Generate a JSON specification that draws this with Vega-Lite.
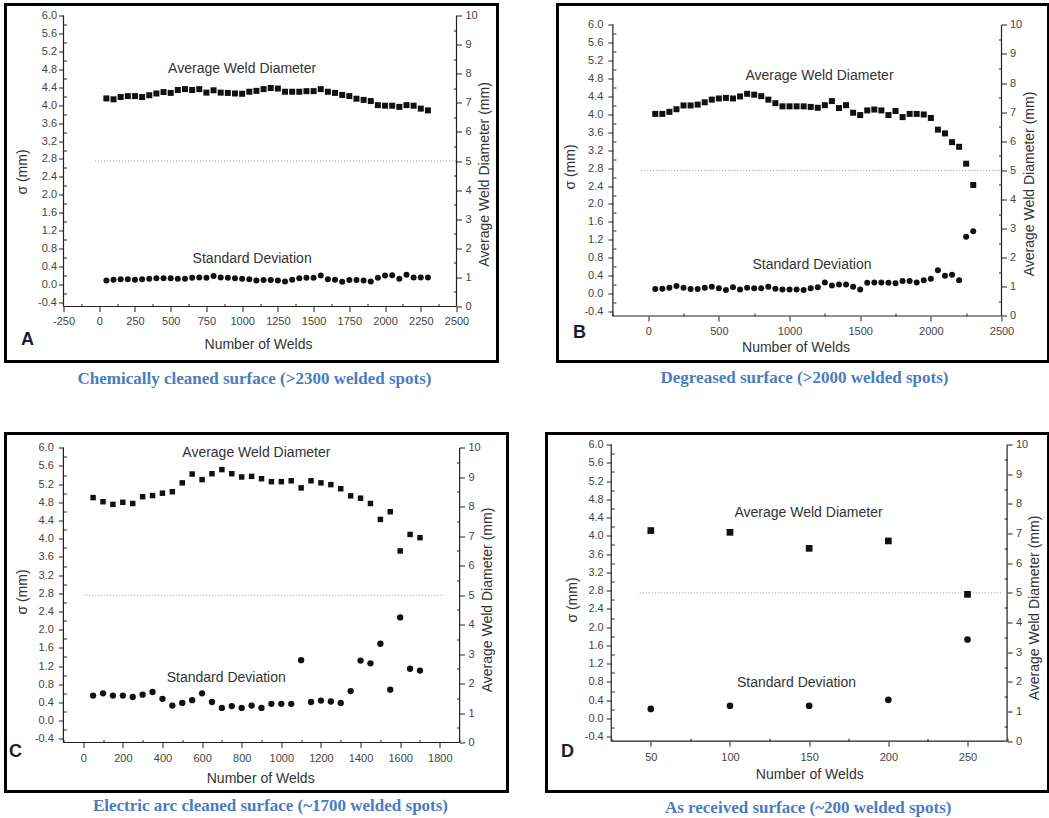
{
  "$schema": "https://vega.github.io/schema/vega-lite/v6.json",
  "padding": {"left": 3.5, "top": 2.5, "right": 0, "bottom": 0},
  "background": "white",
  "datasets": {
    "A": [
      {"welds":50,"sigma":0.09,"diameter":7.15},{"welds":100,"sigma":0.11,"diameter":7.12},{"welds":150,"sigma":0.12,"diameter":7.20},{"welds":200,"sigma":0.12,"diameter":7.23},{"welds":250,"sigma":0.11,"diameter":7.23},{"welds":300,"sigma":0.12,"diameter":7.20},{"welds":350,"sigma":0.13,"diameter":7.26},{"welds":400,"sigma":0.14,"diameter":7.32},{"welds":450,"sigma":0.14,"diameter":7.37},{"welds":500,"sigma":0.14,"diameter":7.34},{"welds":550,"sigma":0.13,"diameter":7.44},{"welds":600,"sigma":0.13,"diameter":7.47},{"welds":650,"sigma":0.15,"diameter":7.44},{"welds":700,"sigma":0.16,"diameter":7.47},{"welds":750,"sigma":0.15,"diameter":7.35},{"welds":800,"sigma":0.19,"diameter":7.43},{"welds":850,"sigma":0.16,"diameter":7.35},{"welds":900,"sigma":0.15,"diameter":7.34},{"welds":950,"sigma":0.14,"diameter":7.32},{"welds":1000,"sigma":0.13,"diameter":7.31},{"welds":1050,"sigma":0.12,"diameter":7.38},{"welds":1100,"sigma":0.09,"diameter":7.41},{"welds":1150,"sigma":0.10,"diameter":7.47},{"welds":1200,"sigma":0.10,"diameter":7.51},{"welds":1250,"sigma":0.09,"diameter":7.49},{"welds":1300,"sigma":0.07,"diameter":7.38},{"welds":1350,"sigma":0.11,"diameter":7.38},{"welds":1400,"sigma":0.14,"diameter":7.38},{"welds":1450,"sigma":0.15,"diameter":7.40},{"welds":1500,"sigma":0.15,"diameter":7.40},{"welds":1550,"sigma":0.20,"diameter":7.47},{"welds":1600,"sigma":0.12,"diameter":7.38},{"welds":1650,"sigma":0.11,"diameter":7.34},{"welds":1700,"sigma":0.06,"diameter":7.27},{"welds":1750,"sigma":0.10,"diameter":7.23},{"welds":1800,"sigma":0.10,"diameter":7.14},{"welds":1850,"sigma":0.09,"diameter":7.10},{"welds":1900,"sigma":0.07,"diameter":7.06},{"welds":1950,"sigma":0.15,"diameter":6.92},{"welds":2000,"sigma":0.20,"diameter":6.90},{"welds":2050,"sigma":0.21,"diameter":6.90},{"welds":2100,"sigma":0.13,"diameter":6.86},{"welds":2150,"sigma":0.22,"diameter":6.92},{"welds":2200,"sigma":0.16,"diameter":6.90},{"welds":2250,"sigma":0.16,"diameter":6.80},{"welds":2300,"sigma":0.16,"diameter":6.74}
    ],
    "B": [
      {"welds":50,"sigma":0.10,"diameter":6.94},{"welds":100,"sigma":0.11,"diameter":6.94},{"welds":150,"sigma":0.13,"diameter":7.01},{"welds":200,"sigma":0.17,"diameter":7.10},{"welds":250,"sigma":0.13,"diameter":7.23},{"welds":300,"sigma":0.10,"diameter":7.23},{"welds":350,"sigma":0.10,"diameter":7.26},{"welds":400,"sigma":0.13,"diameter":7.34},{"welds":450,"sigma":0.15,"diameter":7.43},{"welds":500,"sigma":0.12,"diameter":7.47},{"welds":550,"sigma":0.08,"diameter":7.49},{"welds":600,"sigma":0.14,"diameter":7.47},{"welds":650,"sigma":0.09,"diameter":7.54},{"welds":700,"sigma":0.13,"diameter":7.63},{"welds":750,"sigma":0.12,"diameter":7.60},{"welds":800,"sigma":0.12,"diameter":7.55},{"welds":850,"sigma":0.15,"diameter":7.43},{"welds":900,"sigma":0.11,"diameter":7.31},{"welds":950,"sigma":0.09,"diameter":7.20},{"welds":1000,"sigma":0.09,"diameter":7.20},{"welds":1050,"sigma":0.09,"diameter":7.20},{"welds":1100,"sigma":0.08,"diameter":7.20},{"welds":1150,"sigma":0.12,"diameter":7.18},{"welds":1200,"sigma":0.14,"diameter":7.15},{"welds":1250,"sigma":0.25,"diameter":7.24},{"welds":1300,"sigma":0.18,"diameter":7.38},{"welds":1350,"sigma":0.20,"diameter":7.14},{"welds":1400,"sigma":0.20,"diameter":7.24},{"welds":1450,"sigma":0.15,"diameter":6.98},{"welds":1500,"sigma":0.09,"diameter":6.90},{"welds":1550,"sigma":0.24,"diameter":7.06},{"welds":1600,"sigma":0.25,"diameter":7.09},{"welds":1650,"sigma":0.25,"diameter":7.06},{"welds":1700,"sigma":0.24,"diameter":6.90},{"welds":1750,"sigma":0.23,"diameter":7.04},{"welds":1800,"sigma":0.28,"diameter":6.83},{"welds":1850,"sigma":0.28,"diameter":6.94},{"welds":1900,"sigma":0.25,"diameter":6.94},{"welds":1950,"sigma":0.30,"diameter":6.92},{"welds":2000,"sigma":0.33,"diameter":6.80},{"welds":2050,"sigma":0.52,"diameter":6.40},{"welds":2100,"sigma":0.40,"diameter":6.27},{"welds":2150,"sigma":0.42,"diameter":5.97},{"welds":2200,"sigma":0.30,"diameter":5.81},{"welds":2250,"sigma":1.27,"diameter":5.23},{"welds":2300,"sigma":1.39,"diameter":4.50}
    ],
    "C": [
      {"welds":50,"sigma":0.55,"diameter":8.31},{"welds":100,"sigma":0.60,"diameter":8.17},{"welds":150,"sigma":0.55,"diameter":8.08},{"welds":200,"sigma":0.55,"diameter":8.15},{"welds":250,"sigma":0.52,"diameter":8.11},{"welds":300,"sigma":0.57,"diameter":8.34},{"welds":350,"sigma":0.63,"diameter":8.38},{"welds":400,"sigma":0.48,"diameter":8.46},{"welds":450,"sigma":0.33,"diameter":8.51},{"welds":500,"sigma":0.39,"diameter":8.81},{"welds":550,"sigma":0.45,"diameter":9.11},{"welds":600,"sigma":0.60,"diameter":8.92},{"welds":650,"sigma":0.41,"diameter":9.12},{"welds":700,"sigma":0.28,"diameter":9.26},{"welds":750,"sigma":0.32,"diameter":9.12},{"welds":800,"sigma":0.28,"diameter":9.01},{"welds":850,"sigma":0.33,"diameter":9.03},{"welds":900,"sigma":0.28,"diameter":8.95},{"welds":950,"sigma":0.37,"diameter":8.85},{"welds":1000,"sigma":0.37,"diameter":8.85},{"welds":1050,"sigma":0.37,"diameter":8.88},{"welds":1100,"sigma":1.33,"diameter":8.64},{"welds":1150,"sigma":0.41,"diameter":8.88},{"welds":1200,"sigma":0.44,"diameter":8.81},{"welds":1250,"sigma":0.42,"diameter":8.75},{"welds":1300,"sigma":0.39,"diameter":8.61},{"welds":1350,"sigma":0.65,"diameter":8.37},{"welds":1400,"sigma":1.32,"diameter":8.29},{"welds":1450,"sigma":1.26,"diameter":8.11},{"welds":1500,"sigma":1.69,"diameter":7.57},{"welds":1550,"sigma":0.68,"diameter":7.83},{"welds":1600,"sigma":2.27,"diameter":6.50},{"welds":1650,"sigma":1.14,"diameter":7.06},{"welds":1700,"sigma":1.10,"diameter":6.95}
    ],
    "D": [
      {"welds":50,"sigma":0.21,"diameter":7.10},{"welds":100,"sigma":0.28,"diameter":7.04},{"welds":150,"sigma":0.28,"diameter":6.50},{"welds":200,"sigma":0.41,"diameter":6.75},{"welds":250,"sigma":1.73,"diameter":4.95}
    ]
  },
  "spacing": 43,
  "vconcat": [
    {
      "spacing": 56,
      "hconcat": [
        {
          "width": 492, "height": 357,
          "title": {"text": "Chemically cleaned surface (>2300 welded spots)", "orient": "bottom", "offset": 9.5, "dx": 3},
          "resolve": {"scale": {"y": "independent"}, "axis": {"x": "independent"}},
          "layer": [
            {"data": {"values": [{}]}, "mark": {"type": "rule", "color": "#999999", "strokeDash": [1, 2], "strokeWidth": 1},
             "encoding": {"x": {"datum": -30, "type": "quantitative", "scale": {"domain": [-655.9, 2786.9], "nice": false, "zero": false}, "axis": null}, "x2": {"datum": 2500},
               "y": {"datum": 5, "type": "quantitative", "scale": {"domain": [-1.890, 10.378], "nice": false, "zero": false}, "axis": {"orient": "right", "offset": -41, "values": [0.5,1.5,2.5,3.5,4.5,5.5,6.5,7.5,8.5,9.5], "labels": false, "tickSize": -3, "title": null}}}},
            {"data": {"values": [{}]}, "mark": {"type": "rule", "color": "#222222", "strokeWidth": 1.2},
             "encoding": {"x": {"datum": -250, "type": "quantitative", "scale": {"domain": [-655.9, 2786.9], "nice": false, "zero": false}, "axis": null},
               "y": {"datum": 0, "type": "quantitative", "scale": {"domain": [-1.890, 10.378], "nice": false, "zero": false}, "axis": null}, "y2": {"datum": 10}}},
            {"data": {"values": [{}]}, "mark": {"type": "rule", "color": "#222222", "strokeWidth": 1.2},
             "encoding": {"x": {"datum": 2500, "type": "quantitative", "scale": {"domain": [-655.9, 2786.9], "nice": false, "zero": false}, "axis": null},
               "y": {"datum": 0, "type": "quantitative", "scale": {"domain": [-1.890, 10.378], "nice": false, "zero": false}, "axis": null}, "y2": {"datum": 10}}},
            {"data": {"values": [{}]}, "mark": {"type": "rule", "color": "#222222", "strokeWidth": 1.2},
             "encoding": {"x": {"datum": -250, "type": "quantitative", "scale": {"domain": [-655.9, 2786.9], "nice": false, "zero": false}, "axis": {"orient": "bottom", "offset": -55, "values": [-125,125,375,625,875,1125,1375,1625,1875,2125,2375], "labels": false, "tickSize": -3, "title": null}}, "x2": {"datum": 2500},
               "y": {"datum": 0, "type": "quantitative", "scale": {"domain": [-1.890, 10.378], "nice": false, "zero": false}, "axis": null}}},
            {"data": {"name": "A"}, "mark": {"type": "circle", "size": 36, "color": "#111111", "opacity": 1},
             "encoding": {
               "x": {"field": "welds", "type": "quantitative", "scale": {"domain": [-655.9, 2786.9], "nice": false, "zero": false}, "axis": {"title": "Number of Welds", "orient": "bottom", "offset": -55, "values": [-250,0,250,500,750,1000,1250,1500,1750,2000,2250,2500], "labelExpr": "'' + datum.value", "tickSize": 5, "labelPadding": 4, "titleX": 252.5, "titleY": 31}},
               "y": {"field": "sigma", "type": "quantitative", "scale": {"domain": [-1.7158, 6.2453], "nice": false, "zero": false}, "axis": {"title": "σ (mm)", "orient": "left", "offset": -58, "values": [-0.4,0,0.4,0.8,1.2,1.6,2,2.4,2.8,3.2,3.6,4,4.4,4.8,5.2,5.6,6], "labelExpr": "(datum.value < 0 ? '-' : '') + format(abs(datum.value), '.1f')", "tickSize": 5, "labelPadding": 2, "titlePadding": 8, "titleY": 167}}}},
            {"data": {"name": "A"}, "mark": {"type": "square", "size": 36, "color": "#111111", "opacity": 1},
             "encoding": {
               "x": {"field": "welds", "type": "quantitative", "scale": {"domain": [-655.9, 2786.9], "nice": false, "zero": false}, "axis": null},
               "y": {"field": "diameter", "type": "quantitative", "scale": {"domain": [-1.890, 10.378], "nice": false, "zero": false}, "axis": {"title": "Average Weld Diameter (mm)", "orient": "right", "offset": -41, "values": [0,1,2,3,4,5,6,7,8,9,10], "tickSize": 5, "labelPadding": 3.5, "titlePadding": 0, "titleAngle": 270, "titleBaseline": "top", "titleY": 169.5}}}},
            {"data": {"values": [{}]}, "mark": {"type": "text", "text": "Average Weld Diameter", "fontSize": 14, "font": "Liberation Sans", "color": "#333333"},
             "encoding": {"x": {"datum": 1000, "type": "quantitative", "scale": {"domain": [-655.9, 2786.9], "nice": false, "zero": false}, "axis": null},
               "y": {"datum": 4.8, "type": "quantitative", "scale": {"domain": [-1.7158, 6.2453], "nice": false, "zero": false}, "axis": {"orient": "left", "offset": -58, "values": [-0.2,0.2,0.6,1,1.4,1.8,2.2,2.6,3,3.4,3.8,4.2,4.6,5,5.4,5.8], "labels": false, "tickSize": -3, "title": null}}}},
            {"data": {"values": [{}]}, "mark": {"type": "text", "text": "Standard Deviation", "fontSize": 14, "font": "Liberation Sans", "color": "#333333"},
             "encoding": {"x": {"datum": 1070, "type": "quantitative", "scale": {"domain": [-655.9, 2786.9], "nice": false, "zero": false}, "axis": null},
               "y": {"datum": 0.56, "type": "quantitative", "scale": {"domain": [-1.7158, 6.2453], "nice": false, "zero": false}, "axis": null}}},
            {"data": {"values": [{}]}, "mark": {"type": "text", "text": "A", "fontSize": 18, "fontWeight": "bold", "font": "Liberation Sans", "color": "#1a1a33"},
             "encoding": {"x": {"datum": -502, "type": "quantitative", "scale": {"domain": [-655.9, 2786.9], "nice": false, "zero": false}, "axis": null},
               "y": {"datum": -1.23, "type": "quantitative", "scale": {"domain": [-1.7158, 6.2453], "nice": false, "zero": false}, "axis": null}}}
          ]
        },
        {
          "width": 491, "height": 357,
          "title": {"text": "Degreased surface (>2000 welded spots)", "orient": "bottom", "offset": 8.5, "dx": 1.5},
          "resolve": {"scale": {"y": "independent"}, "axis": {"x": "independent"}},
          "layer": [
            {"data": {"values": [{}]}, "mark": {"type": "rule", "color": "#999999", "strokeDash": [1, 2], "strokeWidth": 1},
             "encoding": {"x": {"datum": -50, "type": "quantitative", "scale": {"domain": [-641.8, 2832.6], "nice": false, "zero": false}, "axis": null}, "x2": {"datum": 2500},
               "y": {"datum": 5, "type": "quantitative", "scale": {"domain": [-1.5625, 10.697], "nice": false, "zero": false}, "axis": {"orient": "right", "offset": -47, "values": [0.5,1.5,2.5,3.5,4.5,5.5,6.5,7.5,8.5,9.5], "labels": false, "tickSize": -3, "title": null}}}},
            {"data": {"values": [{}]}, "mark": {"type": "rule", "color": "#222222", "strokeWidth": 1.2},
             "encoding": {"x": {"datum": -250, "type": "quantitative", "scale": {"domain": [-641.8, 2832.6], "nice": false, "zero": false}, "axis": null},
               "y": {"datum": 0, "type": "quantitative", "scale": {"domain": [-1.5625, 10.697], "nice": false, "zero": false}, "axis": null}, "y2": {"datum": 10}}},
            {"data": {"values": [{}]}, "mark": {"type": "rule", "color": "#222222", "strokeWidth": 1.2},
             "encoding": {"x": {"datum": 2500, "type": "quantitative", "scale": {"domain": [-641.8, 2832.6], "nice": false, "zero": false}, "axis": null},
               "y": {"datum": 0, "type": "quantitative", "scale": {"domain": [-1.5625, 10.697], "nice": false, "zero": false}, "axis": null}, "y2": {"datum": 10}}},
            {"data": {"values": [{}]}, "mark": {"type": "rule", "color": "#222222", "strokeWidth": 1.2},
             "encoding": {"x": {"datum": -250, "type": "quantitative", "scale": {"domain": [-641.8, 2832.6], "nice": false, "zero": false}, "axis": {"orient": "bottom", "offset": -45.5, "values": [-250,250,750,1250,1750,2250], "labels": false, "tickSize": -3, "title": null}}, "x2": {"datum": 2500},
               "y": {"datum": 0, "type": "quantitative", "scale": {"domain": [-1.5625, 10.697], "nice": false, "zero": false}, "axis": null}}},
            {"data": {"name": "B"}, "mark": {"type": "circle", "size": 36, "color": "#111111", "opacity": 1},
             "encoding": {
               "x": {"field": "welds", "type": "quantitative", "scale": {"domain": [-641.8, 2832.6], "nice": false, "zero": false}, "axis": {"title": "Number of Welds", "orient": "bottom", "offset": -45.5, "values": [0,500,1000,1500,2000,2500], "labelExpr": "'' + datum.value", "tickSize": 5, "labelPadding": 4, "titleX": 238, "titleY": 24}},
               "y": {"field": "sigma", "type": "quantitative", "scale": {"domain": [-1.5161, 6.4531], "nice": false, "zero": false}, "axis": {"title": "σ (mm)", "orient": "left", "offset": -55.4, "values": [-0.4,0,0.4,0.8,1.2,1.6,2,2.4,2.8,3.2,3.6,4,4.4,4.8,5.2,5.6,6], "labelExpr": "(datum.value < 0 ? '-' : '') + format(abs(datum.value), '.1f')", "tickSize": 5, "labelPadding": 5, "titlePadding": 6, "titleY": 162}}}},
            {"data": {"name": "B"}, "mark": {"type": "square", "size": 36, "color": "#111111", "opacity": 1},
             "encoding": {
               "x": {"field": "welds", "type": "quantitative", "scale": {"domain": [-641.8, 2832.6], "nice": false, "zero": false}, "axis": null},
               "y": {"field": "diameter", "type": "quantitative", "scale": {"domain": [-1.5625, 10.697], "nice": false, "zero": false}, "axis": {"title": "Average Weld Diameter (mm)", "orient": "right", "offset": -47, "values": [0,1,2,3,4,5,6,7,8,9,10], "tickSize": 5, "labelPadding": 3, "titlePadding": 1, "titleAngle": 270, "titleBaseline": "top", "titleY": 179}}}},
            {"data": {"values": [{}]}, "mark": {"type": "text", "text": "Average Weld Diameter", "fontSize": 14, "font": "Liberation Sans", "color": "#333333"},
             "encoding": {"x": {"datum": 1212, "type": "quantitative", "scale": {"domain": [-641.8, 2832.6], "nice": false, "zero": false}, "axis": null},
               "y": {"datum": 4.85, "type": "quantitative", "scale": {"domain": [-1.5161, 6.4531], "nice": false, "zero": false}, "axis": {"orient": "left", "offset": -55.4, "values": [-0.2,0.2,0.6,1,1.4,1.8,2.2,2.6,3,3.4,3.8,4.2,4.6,5,5.4,5.8], "labels": false, "tickSize": -3, "title": null}}}},
            {"data": {"values": [{}]}, "mark": {"type": "text", "text": "Standard Deviation", "fontSize": 14, "font": "Liberation Sans", "color": "#333333"},
             "encoding": {"x": {"datum": 1159, "type": "quantitative", "scale": {"domain": [-641.8, 2832.6], "nice": false, "zero": false}, "axis": null},
               "y": {"datum": 0.64, "type": "quantitative", "scale": {"domain": [-1.5161, 6.4531], "nice": false, "zero": false}, "axis": null}}},
            {"data": {"values": [{}]}, "mark": {"type": "text", "text": "B", "fontSize": 18, "fontWeight": "bold", "font": "Liberation Sans", "color": "#1a1a33"},
             "encoding": {"x": {"datum": -486, "type": "quantitative", "scale": {"domain": [-641.8, 2832.6], "nice": false, "zero": false}, "axis": null},
               "y": {"datum": -0.87, "type": "quantitative", "scale": {"domain": [-1.5161, 6.4531], "nice": false, "zero": false}, "axis": null}}}
          ]
        }
      ]
    },
    {
      "spacing": 35,
      "hconcat": [
        {
          "width": 502, "height": 358,
          "title": {"text": "Electric arc cleaned surface (~1700 welded spots)", "orient": "bottom", "offset": 6.5, "dx": 14},
          "resolve": {"scale": {"y": "independent"}, "axis": {"x": "independent"}},
          "layer": [
            {"data": {"values": [{}]}, "mark": {"type": "rule", "color": "#999999", "strokeDash": [1, 2], "strokeWidth": 1},
             "encoding": {"x": {"datum": 0, "type": "quantitative", "scale": {"domain": [-392.2, 2141.7], "nice": false, "zero": false}, "axis": null}, "x2": {"datum": 1820},
               "y": {"datum": 5, "type": "quantitative", "scale": {"domain": [-1.663, 10.485], "nice": false, "zero": false}, "axis": {"orient": "right", "offset": -47.9, "values": [0.5,1.5,2.5,3.5,4.5,5.5,6.5,7.5,8.5,9.5], "labels": false, "tickSize": -3, "title": null}}}},
            {"data": {"values": [{}]}, "mark": {"type": "rule", "color": "#222222", "strokeWidth": 1.2},
             "encoding": {"x": {"datum": -100, "type": "quantitative", "scale": {"domain": [-392.2, 2141.7], "nice": false, "zero": false}, "axis": null},
               "y": {"datum": 0, "type": "quantitative", "scale": {"domain": [-1.663, 10.485], "nice": false, "zero": false}, "axis": null}, "y2": {"datum": 10}}},
            {"data": {"values": [{}]}, "mark": {"type": "rule", "color": "#222222", "strokeWidth": 1.2},
             "encoding": {"x": {"datum": 1900, "type": "quantitative", "scale": {"domain": [-392.2, 2141.7], "nice": false, "zero": false}, "axis": null},
               "y": {"datum": 0, "type": "quantitative", "scale": {"domain": [-1.663, 10.485], "nice": false, "zero": false}, "axis": null}, "y2": {"datum": 10}}},
            {"data": {"values": [{}]}, "mark": {"type": "rule", "color": "#222222", "strokeWidth": 1.2},
             "encoding": {"x": {"datum": -100, "type": "quantitative", "scale": {"domain": [-392.2, 2141.7], "nice": false, "zero": false}, "axis": {"orient": "bottom", "offset": -49, "values": [-100,100,300,500,700,900,1100,1300,1500,1700,1900], "labels": false, "tickSize": -3, "title": null}}, "x2": {"datum": 1900},
               "y": {"datum": 0, "type": "quantitative", "scale": {"domain": [-1.663, 10.485], "nice": false, "zero": false}, "axis": null}}},
            {"data": {"name": "C"}, "mark": {"type": "circle", "size": 40, "color": "#111111", "opacity": 1},
             "encoding": {
               "x": {"field": "welds", "type": "quantitative", "scale": {"domain": [-392.2, 2141.7], "nice": false, "zero": false}, "axis": {"title": "Number of Welds", "orient": "bottom", "offset": -49, "values": [0,200,400,600,800,1000,1200,1400,1600,1800], "labelExpr": "'' + datum.value", "tickSize": 5, "labelPadding": 5, "titleX": 254.7, "titleY": 29}},
               "y": {"field": "sigma", "type": "quantitative", "scale": {"domain": [-1.559, 6.3145], "nice": false, "zero": false}, "axis": {"title": "σ (mm)", "orient": "left", "offset": -57.9, "values": [-0.4,0,0.4,0.8,1.2,1.6,2,2.4,2.8,3.2,3.6,4,4.4,4.8,5.2,5.6,6], "labelExpr": "(datum.value < 0 ? '-' : '') + format(abs(datum.value), '.1f')", "tickSize": 5, "labelPadding": 5, "titlePadding": 5, "titleY": 158}}}},
            {"data": {"name": "C"}, "mark": {"type": "square", "size": 30, "color": "#111111", "opacity": 1},
             "encoding": {
               "x": {"field": "welds", "type": "quantitative", "scale": {"domain": [-392.2, 2141.7], "nice": false, "zero": false}, "axis": null},
               "y": {"field": "diameter", "type": "quantitative", "scale": {"domain": [-1.663, 10.485], "nice": false, "zero": false}, "axis": {"title": "Average Weld Diameter (mm)", "orient": "right", "offset": -47.9, "values": [0,1,2,3,4,5,6,7,8,9,10], "tickSize": 5, "labelPadding": 3.4, "titlePadding": 0, "titleAngle": 270, "titleBaseline": "top", "titleY": 166}}}},
            {"data": {"values": [{}]}, "mark": {"type": "text", "text": "Average Weld Diameter", "fontSize": 14, "font": "Liberation Sans", "color": "#333333"},
             "encoding": {"x": {"datum": 874, "type": "quantitative", "scale": {"domain": [-392.2, 2141.7], "nice": false, "zero": false}, "axis": null},
               "y": {"datum": 5.89, "type": "quantitative", "scale": {"domain": [-1.559, 6.3145], "nice": false, "zero": false}, "axis": {"orient": "left", "offset": -57.9, "values": [-0.2,0.2,0.6,1,1.4,1.8,2.2,2.6,3,3.4,3.8,4.2,4.6,5,5.4,5.8], "labels": false, "tickSize": -3, "title": null}}}},
            {"data": {"values": [{}]}, "mark": {"type": "text", "text": "Standard Deviation", "fontSize": 14, "font": "Liberation Sans", "color": "#333333"},
             "encoding": {"x": {"datum": 722, "type": "quantitative", "scale": {"domain": [-392.2, 2141.7], "nice": false, "zero": false}, "axis": null},
               "y": {"datum": 0.93, "type": "quantitative", "scale": {"domain": [-1.559, 6.3145], "nice": false, "zero": false}, "axis": null}}},
            {"data": {"values": [{}]}, "mark": {"type": "text", "text": "C", "fontSize": 18, "fontWeight": "bold", "font": "Liberation Sans", "color": "#1a1a33"},
             "encoding": {"x": {"datum": -342, "type": "quantitative", "scale": {"domain": [-392.2, 2141.7], "nice": false, "zero": false}, "axis": null},
               "y": {"datum": -0.70, "type": "quantitative", "scale": {"domain": [-1.559, 6.3145], "nice": false, "zero": false}, "axis": null}}}
          ]
        },
        {
          "width": 502, "height": 358,
          "title": {"text": "As received surface (~200 welded spots)", "orient": "bottom", "offset": 8.7, "dx": 10.7},
          "resolve": {"scale": {"y": "independent"}, "axis": {"x": "independent"}},
          "layer": [
            {"data": {"values": [{}]}, "mark": {"type": "rule", "color": "#999999", "strokeDash": [1, 2], "strokeWidth": 1},
             "encoding": {"x": {"datum": 43, "type": "quantitative", "scale": {"domain": [-15.87, 301.15], "nice": false, "zero": false}, "axis": null}, "x2": {"datum": 271},
               "y": {"datum": 5, "type": "quantitative", "scale": {"domain": [-1.695, 10.371], "nice": false, "zero": false}, "axis": {"orient": "right", "offset": -41.4, "values": [0.5,1.5,2.5,3.5,4.5,5.5,6.5,7.5,8.5,9.5], "labels": false, "tickSize": -3, "title": null}}}},
            {"data": {"values": [{}]}, "mark": {"type": "rule", "color": "#222222", "strokeWidth": 1.2},
             "encoding": {"x": {"datum": 25, "type": "quantitative", "scale": {"domain": [-15.87, 301.15], "nice": false, "zero": false}, "axis": null},
               "y": {"datum": 0, "type": "quantitative", "scale": {"domain": [-1.695, 10.371], "nice": false, "zero": false}, "axis": null}, "y2": {"datum": 10}}},
            {"data": {"values": [{}]}, "mark": {"type": "rule", "color": "#222222", "strokeWidth": 1.2},
             "encoding": {"x": {"datum": 275, "type": "quantitative", "scale": {"domain": [-15.87, 301.15], "nice": false, "zero": false}, "axis": null},
               "y": {"datum": 0, "type": "quantitative", "scale": {"domain": [-1.695, 10.371], "nice": false, "zero": false}, "axis": null}, "y2": {"datum": 10}}},
            {"data": {"values": [{}]}, "mark": {"type": "rule", "color": "#222222", "strokeWidth": 1.2},
             "encoding": {"x": {"datum": 25, "type": "quantitative", "scale": {"domain": [-15.87, 301.15], "nice": false, "zero": false}, "axis": {"orient": "bottom", "offset": -50.3, "values": [25,75,125,175,225,275], "labels": false, "tickSize": -3, "title": null}}, "x2": {"datum": 275},
               "y": {"datum": 0, "type": "quantitative", "scale": {"domain": [-1.695, 10.371], "nice": false, "zero": false}, "axis": null}}},
            {"data": {"name": "D"}, "mark": {"type": "circle", "size": 45, "color": "#111111", "opacity": 1},
             "encoding": {
               "x": {"field": "welds", "type": "quantitative", "scale": {"domain": [-15.87, 301.15], "nice": false, "zero": false}, "axis": {"title": "Number of Welds", "orient": "bottom", "offset": -50.3, "values": [50,100,150,200,250], "labelExpr": "'' + datum.value", "tickSize": 5, "labelPadding": 5, "titleX": 262.8, "titleY": 26}},
               "y": {"field": "sigma", "type": "quantitative", "scale": {"domain": [-1.5977, 6.2409], "nice": false, "zero": false}, "axis": {"title": "σ (mm)", "orient": "left", "offset": -64.7, "values": [-0.4,0,0.4,0.8,1.2,1.6,2,2.4,2.8,3.2,3.6,4,4.4,4.8,5.2,5.6,6], "labelExpr": "(datum.value < 0 ? '-' : '') + format(abs(datum.value), '.1f')", "tickSize": 5, "labelPadding": 3, "titlePadding": 5, "titleY": 166}}}},
            {"data": {"name": "D"}, "mark": {"type": "square", "size": 45, "color": "#111111", "opacity": 1},
             "encoding": {
               "x": {"field": "welds", "type": "quantitative", "scale": {"domain": [-15.87, 301.15], "nice": false, "zero": false}, "axis": null},
               "y": {"field": "diameter", "type": "quantitative", "scale": {"domain": [-1.695, 10.371], "nice": false, "zero": false}, "axis": {"title": "Average Weld Diameter (mm)", "orient": "right", "offset": -41.4, "values": [0,1,2,3,4,5,6,7,8,9,10], "tickSize": 5, "labelPadding": 3.4, "titlePadding": 0, "titleAngle": 270, "titleBaseline": "top", "titleY": 174}}}},
            {"data": {"values": [{}]}, "mark": {"type": "text", "text": "Average Weld Diameter", "fontSize": 14, "font": "Liberation Sans", "color": "#333333"},
             "encoding": {"x": {"datum": 149.6, "type": "quantitative", "scale": {"domain": [-15.87, 301.15], "nice": false, "zero": false}, "axis": null},
               "y": {"datum": 4.5, "type": "quantitative", "scale": {"domain": [-1.5977, 6.2409], "nice": false, "zero": false}, "axis": {"orient": "left", "offset": -64.7, "values": [-0.2,0.2,0.6,1,1.4,1.8,2.2,2.6,3,3.4,3.8,4.2,4.6,5,5.4,5.8], "labels": false, "tickSize": -3, "title": null}}}},
            {"data": {"values": [{}]}, "mark": {"type": "text", "text": "Standard Deviation", "fontSize": 14, "font": "Liberation Sans", "color": "#333333"},
             "encoding": {"x": {"datum": 142, "type": "quantitative", "scale": {"domain": [-15.87, 301.15], "nice": false, "zero": false}, "axis": null},
               "y": {"datum": 0.77, "type": "quantitative", "scale": {"domain": [-1.5977, 6.2409], "nice": false, "zero": false}, "axis": null}}},
            {"data": {"values": [{}]}, "mark": {"type": "text", "text": "D", "fontSize": 18, "fontWeight": "bold", "font": "Liberation Sans", "color": "#1a1a33"},
             "encoding": {"x": {"datum": -2.6, "type": "quantitative", "scale": {"domain": [-15.87, 301.15], "nice": false, "zero": false}, "axis": null},
               "y": {"datum": -0.74, "type": "quantitative", "scale": {"domain": [-1.5977, 6.2409], "nice": false, "zero": false}, "axis": null}}}
          ]
        }
      ]
    }
  ],
  "config": {
    "view": {"stroke": "#000000", "strokeWidth": 3},
    "font": "Liberation Sans",
    "title": {"font": "Liberation Serif", "fontSize": 17, "fontWeight": "bold", "color": "#4a7cc0", "anchor": "middle"},
    "axis": {"domain": false, "grid": false, "labelFont": "Liberation Sans", "labelFontSize": 11, "labelColor": "#444444", "titleFont": "Liberation Sans", "titleFontSize": 14, "titleFontWeight": "normal", "titleColor": "#333333", "tickColor": "#222222", "labelFlush": false, "labelOverlap": false}
  }
}
